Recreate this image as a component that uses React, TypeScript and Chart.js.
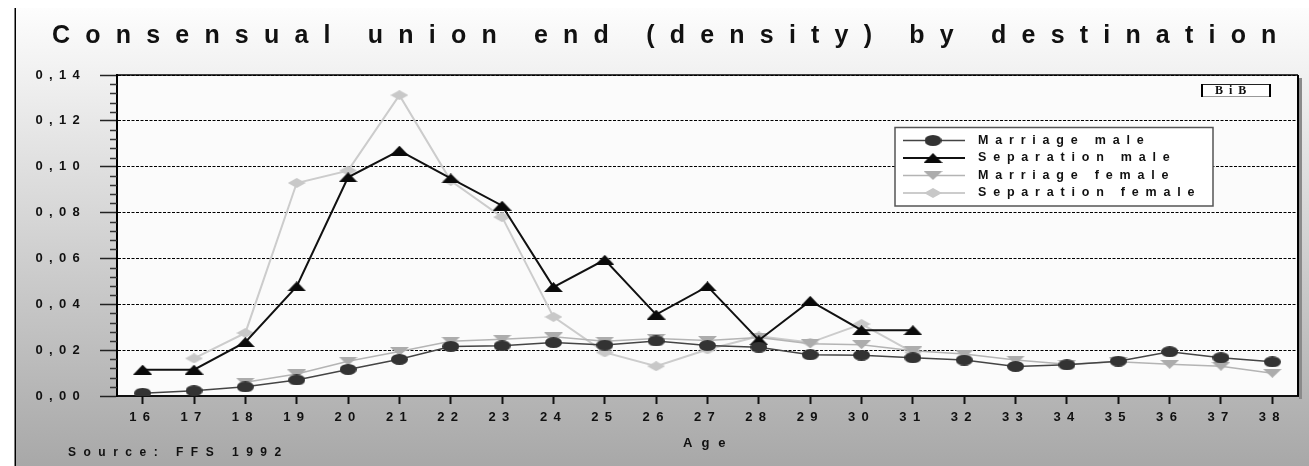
import React, { useEffect, useRef } from 'react';
import { Chart, registerables } from 'chart.js';

Chart.register(...registerables);

// ---------- data ----------
const ages = ['16', '17', '18', '19', '20', '21', '22', '23', '24', '25', '26', '27', '28', '29', '30', '31', '32', '33', '34', '35', '36', '37', '38'];

const marriageMale = [0.0012, 0.0023, 0.004, 0.007, 0.0116, 0.016, 0.0216, 0.0219, 0.0233, 0.0222, 0.024, 0.022, 0.0213, 0.018, 0.0178, 0.0167, 0.0157, 0.0129, 0.0136, 0.0152, 0.0193, 0.0167, 0.0149];
const separationMale = [0.0115, 0.0115, 0.0235, 0.0478, 0.0954, 0.107, 0.0949, 0.083, 0.0475, 0.0594, 0.0355, 0.0478, 0.0243, 0.0415, 0.0287, 0.0287, null, null, null, null, null, null, null];
const marriageFemale = [null, null, 0.006, 0.0096, 0.0152, 0.0194, 0.0239, 0.0248, 0.0258, 0.0239, 0.0251, 0.0242, 0.0255, 0.0228, 0.0224, 0.0197, 0.0183, 0.0157, 0.0139, 0.0149, 0.0138, 0.013, 0.0099];
const separationFemale = [null, 0.0164, 0.0275, 0.0929, 0.0983, 0.1312, 0.0939, 0.078, 0.0345, 0.019, 0.013, 0.0203, 0.026, 0.0233, 0.0314, 0.019, null, null, null, null, null, null, null];

const yTickLabels = ['0,00', '0,02', '0,04', '0,06', '0,08', '0,10', '0,12', '0,14'];
const seriesNames = ['Marriage male', 'Separation male', 'Marriage female', 'Separation female'];
const titleText = 'Consensual union end (density) by destination';
const xAxisTitle = 'Age';
const sourceText = 'Source: FFS 1992';
const badgeText = 'BiB';

const FONT = '"Liberation Sans", Arial, sans-serif';

function makeMarker(w: number, h: number, color: string, shape: string): HTMLCanvasElement {
  const c = document.createElement('canvas');
  c.width = w;
  c.height = h;
  const g = c.getContext('2d')!;
  g.fillStyle = color;
  g.beginPath();
  if (shape === 'ellipse') {
    g.ellipse(w / 2, h / 2, w / 2, h / 2, 0, 0, Math.PI * 2);
  } else if (shape === 'up') {
    g.moveTo(w / 2, 0);
    g.lineTo(w, h);
    g.lineTo(0, h);
  } else if (shape === 'down') {
    g.moveTo(0, 0);
    g.lineTo(w, 0);
    g.lineTo(w / 2, h);
  } else {
    g.moveTo(w / 2, 0);
    g.lineTo(w, h / 2);
    g.lineTo(w / 2, h);
    g.lineTo(0, h / 2);
  }
  g.closePath();
  g.fill();
  return c;
}

function spacedText(ctx: CanvasRenderingContext2D, text: string, x: number, y: number, font: string, spacing: number, color: string) {
  ctx.save();
  ctx.font = font;
  (ctx as any).letterSpacing = spacing + 'px';
  ctx.fillStyle = color;
  ctx.textAlign = 'left';
  ctx.textBaseline = 'middle';
  ctx.fillText(text, x, y);
  ctx.restore();
}

export default function App() {
  const ref = useRef<HTMLCanvasElement>(null);

  useEffect(() => {
    document.body.style.margin = '0';
    const canvas = ref.current!;
    const markers = [
      makeMarker(17, 11, '#333333', 'ellipse'),
      makeMarker(19, 10, '#0a0a0a', 'up'),
      makeMarker(19, 9, '#acacac', 'down'),
      makeMarker(18, 10, '#c8c8c8', 'diamond'),
    ];
    const lineColors = ['#444444', '#111111', '#b4b4b4', '#cccccc'];
    const lineWidths = [1.5, 2, 1.5, 2];
    const seriesData = [marriageMale, separationMale, marriageFemale, separationFemale];

    const decor = {
      id: 'decor',
      beforeDraw(chart: any) {
        const { ctx, chartArea: a, width, height } = chart;
        ctx.save();
        ctx.fillStyle = '#ffffff';
        ctx.fillRect(0, 0, width, height);
        const g = ctx.createLinearGradient(0, 8, 0, height);
        g.addColorStop(0, '#fdfdfd');
        g.addColorStop(1, '#a8a8a8');
        ctx.fillStyle = g;
        ctx.fillRect(16, 8, width - 16, height - 8);
        ctx.fillStyle = '#000000';
        ctx.fillRect(14.5, 8, 1.5, height - 8);
        // plot shadow + fill
        ctx.fillStyle = '#8a8a8a';
        ctx.fillRect(a.right + 1, a.top + 3, 3, a.bottom - a.top);
        ctx.fillStyle = '#fbfbfb';
        ctx.fillRect(a.left, a.top, a.right - a.left, a.bottom - a.top);
        ctx.restore();
        ctx.letterSpacing = '6.3px';
      },
      afterDraw(chart: any) {
        const { ctx, chartArea: a, scales } = chart;
        const y = scales.y;
        ctx.save();
        ctx.letterSpacing = '0px';
        // frame
        ctx.strokeStyle = '#000';
        ctx.lineWidth = 1.5;
        ctx.beginPath();
        ctx.moveTo(a.left, a.top);
        ctx.lineTo(a.right, a.top);
        ctx.stroke();
        ctx.lineWidth = 2;
        ctx.beginPath();
        ctx.moveTo(a.right, a.top);
        ctx.lineTo(a.right, a.bottom);
        ctx.stroke();
        // minor ticks
        ctx.strokeStyle = '#333';
        ctx.lineWidth = 1.5;
        for (let i = 0; i <= 35; i++) {
          if (i % 5 === 0) continue;
          const py = Math.round(y.getPixelForValue(i * 0.004)) + 0.5;
          ctx.beginPath();
          ctx.moveTo(a.left - 7, py);
          ctx.lineTo(a.left, py);
          ctx.stroke();
        }
        ctx.restore();

        // title and other texts
        spacedText(ctx, titleText, 52, 36, `bold 25px ${FONT}`, 15.2, '#111');
        spacedText(ctx, xAxisTitle, 683, 443.5, `bold 13px ${FONT}`, 9, '#111');
        spacedText(ctx, sourceText, 68, 452.5, `bold 12px ${FONT}`, 7.5, '#111');

        // BiB badge
        ctx.save();
        ctx.fillStyle = '#ffffff';
        ctx.fillRect(1202, 84.5, 68, 12);
        ctx.strokeStyle = '#222';
        ctx.lineWidth = 1;
        ctx.beginPath();
        ctx.moveTo(1202, 96.5);
        ctx.lineTo(1202, 84.5);
        ctx.lineTo(1270, 84.5);
        ctx.lineTo(1270, 96.5);
        ctx.stroke();
        ctx.strokeStyle = '#999';
        ctx.beginPath();
        ctx.moveTo(1202, 96.5);
        ctx.lineTo(1270, 96.5);
        ctx.stroke();
        ctx.fillStyle = '#000';
        ctx.fillRect(1201, 84, 2, 13);
        ctx.fillRect(1269, 84, 2, 13);
        ctx.restore();
        spacedText(ctx, badgeText, 1215, 91, `bold 12px "Liberation Serif", "Times New Roman", serif`, 6, '#111');

        // legend
        const lx = 895, ly = 127.5, lw = 318, lh = 78.5;
        ctx.save();
        ctx.fillStyle = '#ffffff';
        ctx.fillRect(lx, ly, lw, lh);
        ctx.strokeStyle = '#555';
        ctx.lineWidth = 1.5;
        ctx.strokeRect(lx, ly, lw, lh);
        ctx.restore();
        const rowY = [140.5, 158, 175.5, 193];
        for (let i = 0; i < seriesNames.length; i++) {
          ctx.save();
          ctx.strokeStyle = lineColors[i];
          ctx.lineWidth = lineWidths[i];
          ctx.beginPath();
          ctx.moveTo(903, rowY[i]);
          ctx.lineTo(965, rowY[i]);
          ctx.stroke();
          const m = markers[i];
          ctx.drawImage(m, 933 - m.width / 2, rowY[i] - m.height / 2);
          ctx.restore();
          spacedText(ctx, seriesNames[i], 978, rowY[i], `bold 12.5px ${FONT}`, 6.8, '#111');
        }
      },
    };

    const tickFont = { family: FONT, size: 13, weight: 'bold' as const };

    const chart = new Chart(canvas, {
      type: 'line',
      data: {
        labels: ages,
        datasets: seriesData.map((d, i) => ({
          label: seriesNames[i],
          data: d,
          borderColor: lineColors[i],
          backgroundColor: lineColors[i],
          borderWidth: lineWidths[i],
          pointStyle: markers[i],
          pointRadius: 5,
          pointHoverRadius: 5,
          tension: 0,
          fill: false,
          spanGaps: false,
        })),
      },
      options: {
        responsive: false,
        animation: false,
        events: [],
        layout: { padding: { top: 75, right: 11, left: 0, bottom: 0 } },
        plugins: {
          legend: { display: false },
          title: { display: false },
          tooltip: { enabled: false },
        },
        scales: {
          x: {
            type: 'category',
            offset: true,
            grid: {
              display: true,
              drawOnChartArea: false,
              drawTicks: true,
              tickLength: 8,
              tickWidth: 2,
              tickColor: '#111',
              offset: false,
            },
            border: { display: true, color: '#111', width: 2 },
            ticks: {
              font: tickFont,
              color: '#111',
              padding: 6,
              maxRotation: 0,
              minRotation: 0,
              autoSkip: false,
            },
            afterFit: (s: any) => {
              s.height = 70;
            },
          },
          y: {
            type: 'linear',
            min: 0,
            max: 0.14,
            grid: {
              color: '#000',
              lineWidth: 1,
              drawTicks: true,
              tickLength: 17,
              tickColor: '#222',
              tickWidth: 1.5,
            },
            border: { display: true, color: '#000', width: 2, dash: [3, 1.5] },
            ticks: {
              stepSize: 0.02,
              font: tickFont,
              color: '#111',
              padding: 14,
              callback: (_v: any, i: number) => yTickLabels[i],
            },
            afterFit: (s: any) => {
              s.width = 117;
            },
          },
        },
      },
      plugins: [decor],
    });

    return () => chart.destroy();
  }, []);

  return <canvas ref={ref} width={1309} height={466} style={{ display: 'block', width: 1309, height: 466 }} />;
}
